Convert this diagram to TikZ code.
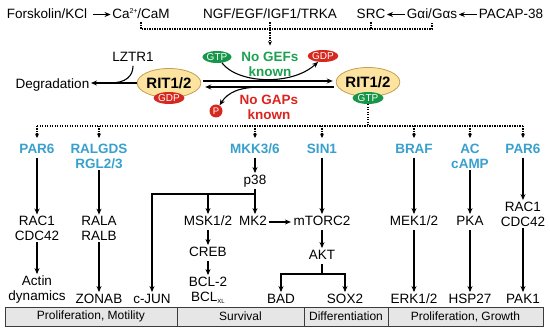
\documentclass[tikz,border=0pt]{standalone}
\usepackage{fontspec}
\setmainfont{Liberation Sans}
\usetikzlibrary{arrows.meta,shapes.geometric}
\definecolor{ritfill}{RGB}{252,228,160}
\definecolor{ritborder}{RGB}{196,158,82}
\definecolor{redb}{RGB}{214,40,30}
\definecolor{grnb}{RGB}{22,150,72}
\definecolor{grnt}{RGB}{30,160,80}
\definecolor{redt}{RGB}{220,35,30}
\definecolor{blu}{RGB}{55,160,205}
\definecolor{cellfill}{RGB}{230,230,230}
\definecolor{cellborder}{RGB}{60,60,60}
\begin{document}
\begin{tikzpicture}[x=1pt,y=-1pt,
  every node/.style={inner sep=1.5pt},
  t/.style={font=\fontsize{13.5}{15}\selectfont, text height=10pt, text depth=2.5pt},
  tt/.style={font=\fontsize{13.5}{15}\selectfont, align=center},
  bl/.style={t, text=blu, font=\bfseries\fontsize{13.5}{15}\selectfont},
  bltt/.style={tt, text=blu, font=\bfseries\fontsize{13.5}{15}\selectfont},
  rit/.style={ellipse, draw=ritborder, line width=0.8pt, fill=ritfill, minimum width=58pt, minimum height=29pt, inner sep=0pt, font=\bfseries\fontsize{15}{15}\selectfont},
  badge/.style={ellipse, inner sep=0pt, minimum width=31pt, minimum height=12pt, text=white, font=\fontsize{10}{10}\selectfont},
  arr/.style={-{Stealth[length=6pt,width=5pt]}, line width=1.1pt},
  dots/.style={line width=1.2pt, dash pattern=on 1.2pt off 1.3pt},
  dotarr/.style={dots, -{Stealth[length=4.5pt,width=4pt]}},
  cell/.style={draw=cellborder, fill=cellfill, line width=0.8pt, minimum height=19pt, inner sep=0pt, font=\fontsize{12}{12}\selectfont},
]
\useasboundingbox (0,0) rectangle (550,334);

% top row
\node[t] (forsk) at (47,14.5) {Forskolin/KCl};
\node[t] (cacam) at (141,14.5) {Ca\raisebox{5pt}{\fontsize{7}{7}\selectfont 2+}/CaM};
\node[t] (ngf) at (270,14.5) {NGF/EGF/IGF1/TRKA};
\node[t] (src) at (371,14.5) {SRC};
\node[t] (gai) at (432,14.5) {Gαi/Gαs};
\node[t] (pacap) at (511,14.5) {PACAP-38};
\draw[arr, shorten <=4pt] (forsk) -- (cacam);
\draw[arr] (gai) -- (src);
\draw[arr] (pacap) -- (gai);
\coordinate (tbus) at (0,29);
\draw[dots] (cacam.south) -- (cacam.south |- tbus) -- (gai.south |- tbus) -- (gai.south);
\draw[dots] (src.south) -- (src.south |- tbus);

% RIT cycle
\node[t] (lztr) at (133,58) {LZTR1};
\node[t] (degr) at (52.5,84.5) {Degradation};
\node[rit] (ritL) at (169,83) {RIT1/2};
\node[rit] (ritR) at (368,82) {RIT1/2};
\node[badge, fill=redb] (gdpL) at (169,98) {GDP};
\node[badge, fill=grnb] (gtpR) at (368,98) {GTP};
\node[badge, fill=grnb, minimum width=28pt] (gtpA) at (217,57) {GTP};
\node[badge, fill=redb, minimum width=30pt] (gdpA) at (323,56) {GDP};
\node[circle, fill=redb, minimum size=13pt, inner sep=0pt, text=white, font=\fontsize{9.5}{9.5}\selectfont] (pP) at (216,111) {P};
\node[tt, text=grnt, font=\bfseries\fontsize{13.5}{15}\selectfont] (nogef) at (270,64.5) {No GEFs\\known};
\node[tt, text=redt, font=\bfseries\fontsize{13.5}{15}\selectfont] (nogap) at (269,107.5) {No GAPs\\known};

\draw[dotarr, shorten >=5pt] (ngf.south) -- (ngf.south |- nogef.north);
\draw[arr, line width=1.4pt] ([xshift=2pt,yshift=2pt]ritL.east) -- ([xshift=-3pt,yshift=1pt]ritR.west);
\draw[arr, line width=1.4pt] ([xshift=-2pt,yshift=-5pt]ritR.west) -- ([xshift=4pt,yshift=-4pt]ritL.east);
\draw[arr] (gtpA.-50) .. controls (238,84) and (292,86) .. (gdpA.-130);
\coordinate (gapst) at (262,87);
\draw[arr] (gapst) .. controls (240,87) and (228,92) .. (pP);
\draw[arr] (ritL.west) -- (ritL.west -| degr.east);
\coordinate (lzj) at (110,83);
\draw[line width=1.1pt] (lztr.south) .. controls (133,76) and (126,83) .. (lzj);

% effectors
\node[bl] (par6L) at (37,150) {PAR6};
\node[bltt] (ralgds) at (99,156) {RALGDS\\RGL2/3};
\node[bl] (mkk) at (255,150) {MKK3/6};
\node[bl] (sin1) at (322,150) {SIN1};
\node[bl] (braf) at (414,150) {BRAF};
\node[bltt] (ac) at (470,156) {AC\\cAMP};
\node[bl] (par6R) at (523,150) {PAR6};

\coordinate (bbus) at (0,126);
\draw[dots] (gtpR.south) -- (gtpR.south |- bbus);
\draw[dots] (par6L.north |- bbus) -- (par6R.north |- bbus);
\foreach \n in {par6L,ralgds,mkk,sin1,braf,ac,par6R}
  \draw[dotarr, shorten >=4pt] (\n.north |- bbus) -- (\n.north);

% downstream
\node[tt] (rac1L) at (37,228.5) {RAC1\\CDC42};
\node[tt] (actin) at (37,289.6) {Actin\\dynamics};
\node[tt] (rala) at (99,228.5) {RALA\\RALB};
\node[t] (zonab) at (99,300) {ZONAB};
\node[t] (p38) at (255,181) {p38};
\node[t] (msk) at (208,222) {MSK1/2};
\node[t] (mk2) at (253,222) {MK2};
\node[t] (cjun) at (152,300) {c-JUN};
\node[t] (creb) at (208,253) {CREB};
\node[tt] (bcl) at (208,290) {BCL-2\\BCL\raisebox{-2pt}{\fontsize{6}{6}\selectfont XL}};
\node[t] (mtorc) at (322,222) {mTORC2};
\node[t] (akt) at (322,256) {AKT};
\node[t] (bad) at (281,300) {BAD};
\node[t] (sox2) at (345,300) {SOX2};
\node[t] (mek) at (414,222) {MEK1/2};
\node[t] (erk) at (414,300) {ERK1/2};
\node[t] (pka) at (470,222) {PKA};
\node[t] (hsp) at (470,300) {HSP27};
\node[tt] (rac1R) at (523,214) {RAC1\\CDC42};
\node[t] (pak1) at (523,300) {PAK1};

\draw[arr] (par6L) -- (rac1L);
\draw[arr] (rac1L) -- (actin);
\draw[arr] (ralgds) -- (rala);
\draw[arr] (rala) -- (zonab);
\draw[arr] (mkk) -- (p38);
\coordinate (pb) at (255,194);
\draw[arr] (p38) -- (pb) -| (cjun);
\draw[arr] (pb -| msk) -- (msk);
\draw[arr] (pb) -- (pb |- mk2.north);
\draw[arr] (msk) -- (creb);
\draw[arr] (creb) -- (bcl);
\draw[arr, shorten >=1pt] (mk2) -- (mtorc);
\draw[arr] (sin1) -- (mtorc);
\draw[arr] (mtorc) -- (akt);
\coordinate (ab) at (322,274);
\draw[arr] (akt) -- (ab) -| (bad);
\draw[arr] (ab) -| (sox2);
\draw[arr] (braf) -- (mek);
\draw[arr] (mek) -- (erk);
\draw[arr] (ac) -- (pka);
\draw[arr] (pka) -- (hsp);
\draw[arr] (par6R) -- (rac1R);
\draw[arr] (rac1R) -- (pak1);

% bottom bar
\node[cell, minimum width=172pt] (c1) at (91,316.5) {Proliferation, Motility};
\node[cell, minimum width=127pt] (c2) at (240.5,316.5) {Survival};
\node[cell, minimum width=84pt] (c3) at (346,316.5) {Differentiation};
\node[cell, minimum width=155pt] (c4) at (465.5,316.5) {Proliferation, Growth};
\end{tikzpicture}
\end{document}
